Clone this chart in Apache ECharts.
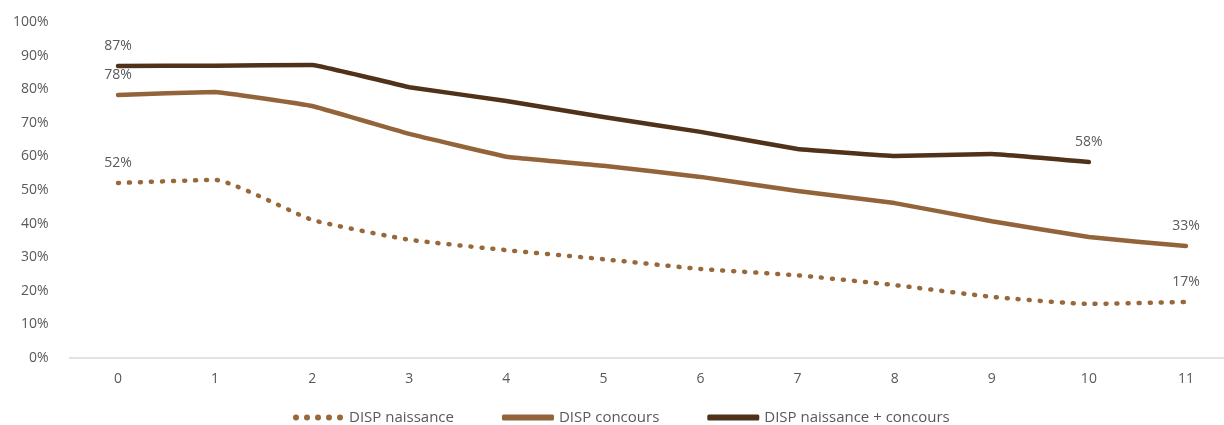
<!DOCTYPE html>
<html>
<head>
<meta charset="utf-8">
<script src="https://cdn.jsdelivr.net/npm/echarts@6/dist/echarts.min.js"></script>
<style>
  html, body { margin: 0; padding: 0; background: #fff; }
  #chart { width: 1224px; height: 425px; }
</style>
</head>
<body>
<div id="chart"></div>
<script>
// Years since start
const categories = ['0', '1', '2', '3', '4', '5', '6', '7', '8', '9', '10', '11'];

// Share of beneficiaries (%)
const naissance = [52.1, 53.0, 41.1, 35.2, 32.1, 29.4, 26.5, 24.6, 21.7, 18.2, 16.1, 16.7];
const concours = [78.3, 79.2, 75.0, 66.7, 59.9, 57.2, 53.9, 49.7, 46.1, 40.7, 36.0, 33.3];
const naissanceConcours = [86.9, 87.0, 87.2, 80.6, 76.5, 71.7, 67.3, 62.2, 60.1, 60.7, 58.3];

const yTicks = { min: 0, max: 100, interval: 10 };

const labelColor = '#595959';
const fontFamily = '"Open Sans", sans-serif';

// Legend glyph for the dotted series: five round dots in a row
const dotsIcon = 'path://' + [0, 1, 2, 3, 4].map(i => {
  const x = i * 11;
  return 'M' + x + ',3a3,3 0 1,0 6,0a3,3 0 1,0 -6,0z';
}).join('');

// Show value labels only on the first and last point of a series
function withEndLabels(values) {
  return values.map((v, i) => ({
    value: v,
    label: { show: i === 0 || i === values.length - 1 }
  }));
}

const endLabel = {
  position: 'top',
  distance: 13,
  color: labelColor,
  fontSize: 14,
  fontFamily: fontFamily,
  formatter: p => Math.round(p.value) + '%'
};

function lineSeries(name, values, color, smooth, dashed) {
  return {
    name: name,
    type: 'line',
    data: withEndLabels(values),
    smooth: smooth,
    showSymbol: true,
    symbol: 'circle',
    symbolSize: 0,
    lineStyle: dashed
      ? { color: color, width: 4.5, type: [1, 10], cap: 'round' }
      : { color: color, width: 4.5, cap: 'round', join: 'round' },
    itemStyle: { color: color },
    label: endLabel
  };
}

const chart = echarts.init(document.getElementById('chart'));
chart.setOption({
  animation: false,
  textStyle: { fontFamily: fontFamily },
  grid: {
    left: 69.5, width: 1165, top: 22, bottom: 67,
    containLabel: false,
    outerBoundsMode: 'none'
  },
  xAxis: {
    type: 'category',
    data: categories,
    boundaryGap: true,
    axisLine: { lineStyle: { color: '#d9d9d9', width: 1.5 } },
    axisTick: { show: false },
    axisLabel: { color: labelColor, fontSize: 14, margin: 14 }
  },
  yAxis: {
    type: 'value',
    min: yTicks.min,
    max: yTicks.max,
    interval: yTicks.interval,
    splitLine: { show: false },
    axisLine: { show: false },
    axisTick: { show: false },
    axisLabel: { color: labelColor, fontSize: 14, margin: 21, formatter: '{value}%' }
  },
  legend: {
    top: 405,
    left: 288,
    itemWidth: 52,
    itemHeight: 6,
    itemGap: 48,
    textStyle: { color: labelColor, fontSize: 15 },
    data: [
      { name: 'DISP naissance', icon: dotsIcon },
      { name: 'DISP concours', icon: 'roundRect' },
      { name: 'DISP naissance + concours', icon: 'roundRect' }
    ]
  },
  series: [
    lineSeries('DISP naissance', naissance, '#98673a', 0.15, true),
    lineSeries('DISP concours', concours, '#93643a', 0.06, false),
    lineSeries('DISP naissance + concours', naissanceConcours, '#4f3219', 0.06, false)
  ]
});
</script>
</body>
</html>
